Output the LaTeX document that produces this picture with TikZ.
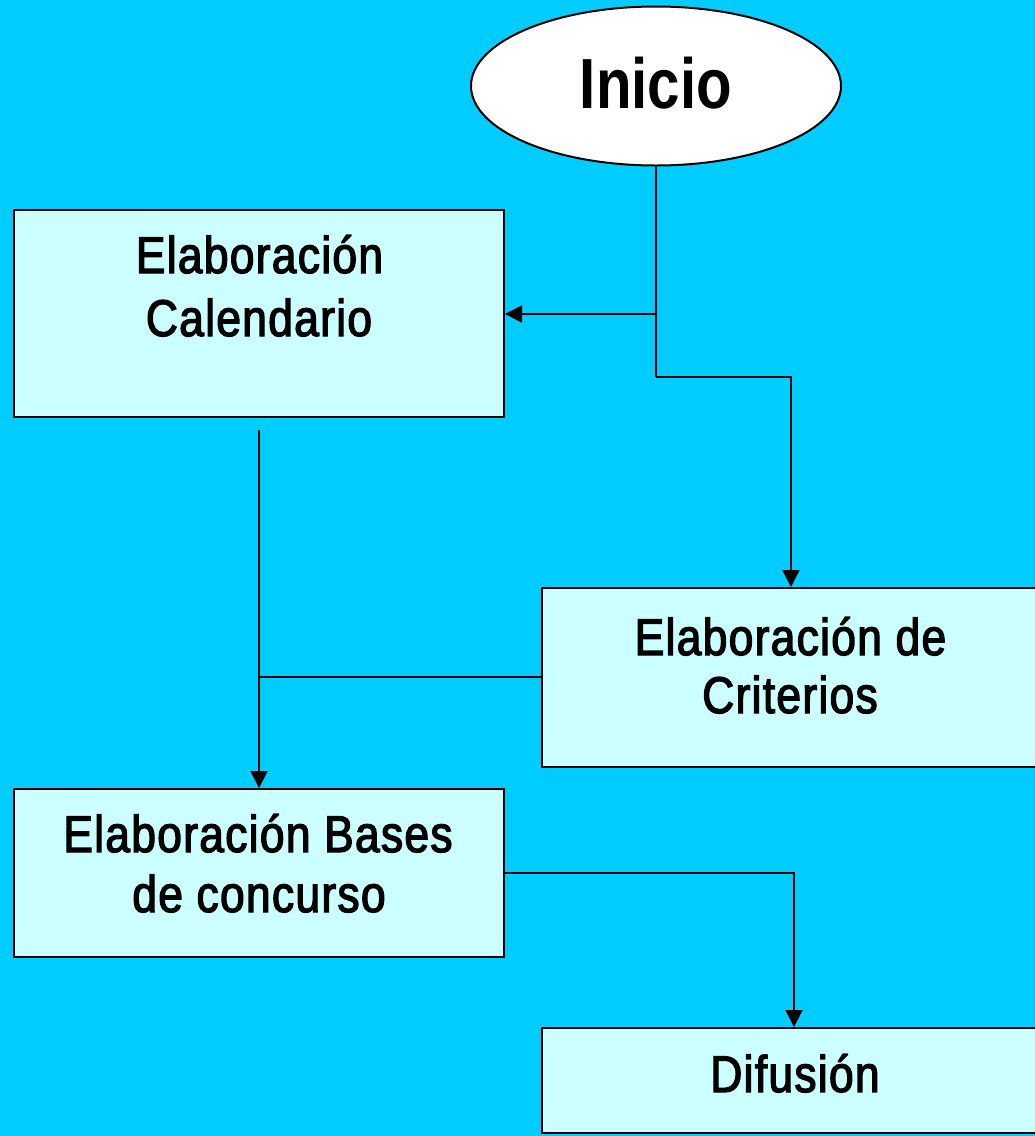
\documentclass[tikz,border=0pt]{standalone}
\usepackage{fontspec}
\newfontfamily\narrowfont{Liberation Sans}[FakeStretch=0.82]
\newfontfamily\boxfont{Liberation Sans}[FakeStretch=0.86, FakeBold=2.5, LetterSpace=2.5]
\usetikzlibrary{arrows.meta,shapes.geometric}
\definecolor{bgblue}{HTML}{00CCFF}
\definecolor{boxfill}{HTML}{CCFFFF}
\tikzset{
  box/.style={draw=black, line width=2pt, fill=boxfill, rectangle, inner sep=0pt},
  startnode/.style={draw=black, line width=2pt, fill=white, ellipse, inner sep=0pt,
    minimum width=370pt, minimum height=159pt},
  txt/.style={font=\boxfont\fontsize{51.6pt}{61pt}\selectfont, inner sep=0pt, anchor=base},
  conn/.style={draw=black, line width=2pt},
  arr/.style={conn, -{Triangle[length=17pt,width=17pt]}}
}
\begin{document}
\begin{tikzpicture}[x=1pt,y=-1pt]
\useasboundingbox (0,0) rectangle (1035,1136);
\fill[bgblue] (0,0) rectangle (1035,1136);
% nodes
\node[startnode] (inicio) at (656,86) {};
\node[font=\narrowfont\bfseries\fontsize{71pt}{80pt}\selectfont, inner sep=0pt, anchor=base] (inicioT) at (656,108) {Inicio};
\node[box, minimum width=490pt, minimum height=207pt] (cal) at (259,313.5) {};
\node[txt] (calA) at (259.5,273) {Elaboración};
\node[txt] (calB) at (259,336) {Calendario};
\node[box, minimum width=498pt, minimum height=179pt] (cri) at (791,677.5) {};
\node[txt] (criA) at (790.5,655) {Elaboración de};
\node[txt] (criB) at (790,713) {Criterios};
\node[box, minimum width=490pt, minimum height=168pt] (bas) at (259,873) {};
\node[txt] (basA) at (258,852) {Elaboración Bases};
\node[txt] (basB) at (259,912) {de concurso};
\node[box, minimum width=498pt, minimum height=105pt] (dif) at (791,1080.5) {};
\node[txt] (difT) at (795,1092) {Difusión};
% connectors
\coordinate (j1) at (656,314);
\coordinate (j2) at (656,377);
\coordinate (j3) at (791,377);
\coordinate (calout) at (259,430);
\coordinate (j4) at (259,677);
\coordinate (j5) at (794,873);
\draw[conn] (inicio.south) -- (j2);
\draw[arr] (j1) -- (cal.east |- j1);
\draw[arr] (j2) -- (j3) -- (cri.north -| j3);
\draw[arr] (calout) -- (bas.north);
\draw[conn] (cri.west |- j4) -- (j4);
\draw[arr] (bas.east |- j5) -- (j5) -- (dif.north -| j5);
\end{tikzpicture}
\end{document}
